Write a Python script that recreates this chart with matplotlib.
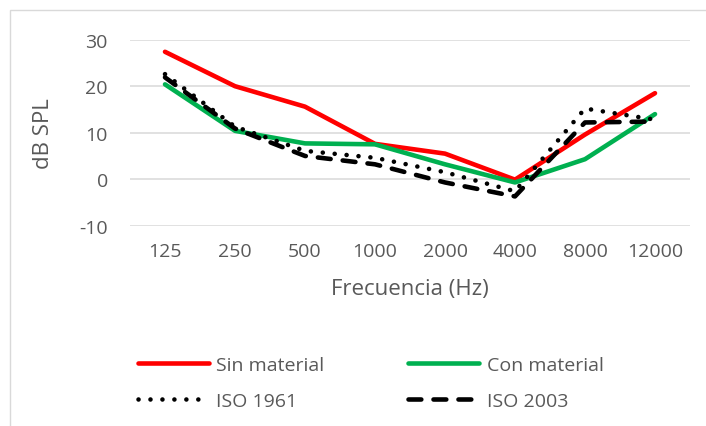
import matplotlib
matplotlib.use('Agg')
import matplotlib.pyplot as plt
from matplotlib.patches import Rectangle
import numpy as np

plt.rcParams['font.family'] = ['Open Sans', 'DejaVu Sans']
plt.rcParams['axes.unicode_minus'] = False

# Umbrales de audición por frecuencia (dB SPL)
frecuencias = ['125', '250', '500', '1000', '2000', '4000', '8000', '12000']
sin_material = [27.4, 20.0, 15.6, 7.6, 5.5, -0.1, 9.6, 18.5]
con_material = [20.4, 10.4, 7.7, 7.5, 3.2, -0.7, 4.3, 14.0]
iso_1961 = [22.6, 11.3, 6.1, 4.6, 1.5, -2.6, 15.2, 12.8]
iso_2003 = [21.9, 10.9, 5.0, 3.2, -0.7, -3.7, 12.2, 12.4]

gris = '#595959'
W, H = 706, 427

fig = plt.figure(figsize=(W / 100, H / 100), dpi=100)
ax = fig.add_axes([130 / W, 1 - 226.7 / H, 560 / W, 186 / H])

x = np.arange(len(frecuencias))
lw = 3.3
ax.plot(x, sin_material, color='#FF0000', lw=lw, solid_capstyle='round',
        solid_joinstyle='round', label='Sin material', zorder=3)
ax.plot(x, con_material, color='#00B050', lw=lw, solid_capstyle='round',
        solid_joinstyle='round', label='Con material', zorder=3)
ax.plot(x, iso_1961, color='black', lw=lw, dashes=(0.01, 2.6),
        dash_capstyle='round', label='ISO 1961', zorder=4)
ax.plot(x, iso_2003, color='black', lw=lw, dashes=(2.8, 2.65),
        dash_capstyle='round', label='ISO 2003', zorder=4)

ax.set_xlim(-0.5, len(frecuencias) - 0.5)
ax.set_ylim(-10, 30)
ax.set_yticks([-10, 0, 10, 20, 30])
ax.set_xticks(x)
ax.set_xticklabels(frecuencias)
ax.grid(axis='y', color='#D9D9D9', lw=1.1)
ax.set_axisbelow(True)
for s in ax.spines.values():
    s.set_visible(False)
ax.tick_params(axis='both', length=0, colors=gris, labelsize=14)
ax.tick_params(axis='y', pad=16)
ax.tick_params(axis='x', pad=12)

ax.set_ylabel('dB SPL', color=gris, fontsize=16)
ax.yaxis.set_label_coords(-0.136, 0.5)
ax.set_xlabel('Frecuencia (Hz)', color=gris, fontsize=16, va='center')
ax.xaxis.set_label_coords(0.5, (226.7 - 289) / 186)

# Leyenda en dos columnas bajo el gráfico
h, l = ax.get_legend_handles_labels()
orden = [0, 2, 1, 3]
leg = fig.legend([h[i] for i in orden], [l[i] for i in orden], ncol=2,
                 loc='upper left', bbox_to_anchor=(128 / W, 1 - 347 / H),
                 frameon=False, fontsize=14, handlelength=3.65,
                 handletextpad=0.4, columnspacing=4.3, labelspacing=0.95,
                 borderpad=0)
for t in leg.get_texts():
    t.set_color(gris)

# Borde del área del gráfico
fig.add_artist(Rectangle((10 / W, -0.1), 1.2, 1.1 - 11 / H,
                         transform=fig.transFigure, fill=False,
                         edgecolor='#D9D9D9', lw=1.0))

fig.savefig('out.png', dpi=100)
